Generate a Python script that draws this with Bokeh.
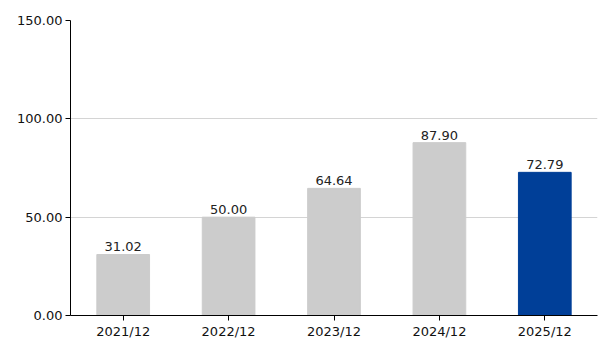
from bokeh.plotting import figure
from bokeh.models import ColumnDataSource, FixedTicker, CustomJSTickFormatter, Range1d
from bokeh.core.properties import value
from bokeh.embed import file_html
from bokeh.resources import INLINE

categories = ["2021/12", "2022/12", "2023/12", "2024/12", "2025/12"]
values = [31.02, 50.00, 64.64, 87.90, 72.79]
labels = ["31.02", "50.00", "64.64", "87.90", "72.79"]
colors = ["#cccccc", "#cccccc", "#cccccc", "#cccccc", "#003f98"]
y_ticks = [0, 50, 100, 150]

src = ColumnDataSource(dict(x=categories, top=values, label=labels, color=colors))

p = figure(width=615, height=345, x_range=categories, y_range=Range1d(0, 150),
           output_backend="svg", toolbar_location=None,
           min_border_left=70, min_border_right=18, min_border_top=20, min_border_bottom=30)
p.outline_line_color = None
p.background_fill_color = "white"
p.border_fill_color = "white"

p.vbar(x="x", top="top", width=0.5, color="color", source=src)
p.text(x="x", y="top", text="label", source=src, text_align="center", text_baseline="bottom",
       y_offset=-3, text_font=value("DejaVu Sans"), text_font_size="13px", text_color="#222222")

p.xgrid.grid_line_color = None
p.ygrid.grid_line_color = "#d4d4d4"
p.ygrid.ticker = FixedTicker(ticks=y_ticks)

p.yaxis.ticker = FixedTicker(ticks=y_ticks)
p.yaxis.formatter = CustomJSTickFormatter(code="return tick.toFixed(2);")
for ax in (p.xaxis[0], p.yaxis[0]):
    ax.axis_line_color = "#000000"
    ax.major_tick_line_color = "#000000"
    ax.minor_tick_line_color = None
    ax.major_tick_in = 0
    ax.major_tick_out = 5
    ax.major_label_text_font = "DejaVu Sans"
    ax.major_label_text_font_size = "13px"
    ax.major_label_text_color = "#111111"
    ax.major_label_standoff = 3

open("out.html", "w").write(file_html(p, INLINE))
